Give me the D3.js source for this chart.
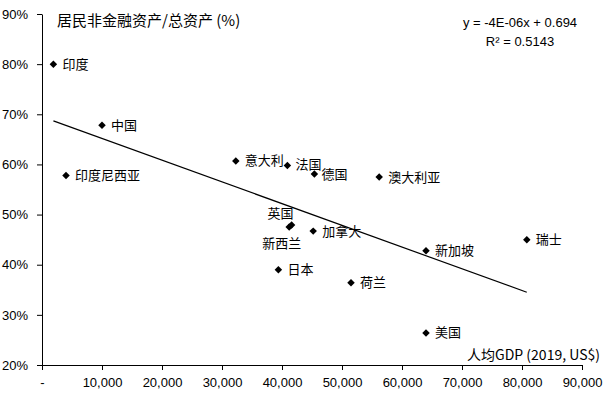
<!DOCTYPE html>
<html>
<head>
<meta charset="utf-8">
<script src="https://cdn.jsdelivr.net/npm/d3@7"></script>
<style>
  body { margin: 0; background: #fff; }
  svg { display: block; }
  .tick text { font-family: "Liberation Sans", Arial, sans-serif; font-size: 13px; fill: #000; }
  .cn { font-family: "Noto Sans CJK SC", sans-serif; font-size: 13px; fill: #000; }
  .eq { font-family: "Liberation Sans", Arial, sans-serif; font-size: 13px; fill: #000; }
</style>
</head>
<body>
<svg id="chart" width="616" height="394"></svg>
<script>
  // data
  var countries = ['印度', '中国', '印度尼西亚', '意大利', '法国', '德国', '澳大利亚', '英国', '新西兰', '加拿大', '新加坡', '瑞士', '日本', '荷兰', '美国'];
  var gdpPerCapita = [1900, 10000, 4000, 32300, 40900, 45400, 56200, 41600, 41200, 45200, 64000, 80800, 39400, 51500, 64000];
  var nonFinShare = [0.80, 0.678, 0.578, 0.607, 0.598, 0.581, 0.575, 0.479, 0.475, 0.467, 0.428, 0.45, 0.39, 0.364, 0.264];
  var xTicks = [0, 10000, 20000, 30000, 40000, 50000, 60000, 70000, 80000, 90000];
  var yTicks = [0.2, 0.3, 0.4, 0.5, 0.6, 0.7, 0.8, 0.9];
  var trendSlope = -4.33e-6, trendIntercept = 0.695;
  var eqLabels = ['y = -4E-06x + 0.694', 'R² = 0.5143'];

  // label placement (dx, dy) for the crowded ones
  var labelPlace = {
    '英国': [-24, -12],
    '新西兰': [-27, 16],
    '法国': [8, -1],
    '德国': [7, 0]
  };

  var svg = d3.select('#chart');
  var x = d3.scaleLinear().domain([0, 90000]).range([42, 582]);
  var y = d3.scaleLinear().domain([0.2, 0.9]).range([365, 14]);

  var xAxis = d3.axisBottom(x).tickValues(xTicks).tickSize(5).tickSizeOuter(0)
    .tickFormat(function(d) { return d === 0 ? '-' : d3.format(',')(d); });
  var gx = svg.append('g').attr('transform', 'translate(0,' + y(0.2) + ')').call(xAxis);
  gx.selectAll('.tick text').attr('dy', '1.1em');

  var yAxis = d3.axisLeft(y).tickValues(yTicks).tickSize(5).tickSizeOuter(0)
    .tickFormat(d3.format('.0%'));
  var gy = svg.append('g').attr('transform', 'translate(' + x(0) + ',0)').call(yAxis);
  gy.selectAll('.tick text').attr('x', -14);

  svg.selectAll('.domain, .tick line').attr('stroke', '#000');

  // trend line over the data range
  var xMin = d3.min(gdpPerCapita), xMax = d3.max(gdpPerCapita);
  svg.append('line')
    .attr('x1', x(xMin)).attr('y1', y(trendIntercept + trendSlope * xMin))
    .attr('x2', x(xMax)).attr('y2', y(trendIntercept + trendSlope * xMax))
    .attr('stroke', '#000').attr('stroke-width', 1.2);

  var pts = countries.map(function(c, i) {
    return { name: c, gdp: gdpPerCapita[i], share: nonFinShare[i] };
  });

  // square turned 45 degrees, like excel's diamond marker
  var diamond = d3.symbol().type(d3.symbolSquare).size(28);
  svg.selectAll('path.pt').data(pts).enter().append('path')
    .attr('class', 'pt')
    .attr('d', diamond)
    .attr('transform', function(d) { return 'translate(' + x(d.gdp) + ',' + y(d.share) + ') rotate(45)'; })
    .attr('fill', '#000');

  svg.selectAll('text.lbl').data(pts).enter().append('text')
    .attr('class', 'lbl cn')
    .attr('x', function(d) { return x(d.gdp) + (labelPlace[d.name] ? labelPlace[d.name][0] : 9); })
    .attr('y', function(d) { return y(d.share) + (labelPlace[d.name] ? labelPlace[d.name][1] : 0); })
    .attr('dy', '0.35em')
    .text(function(d) { return d.name; });

  // axis titles
  svg.append('text').attr('class', 'cn').attr('x', 57).attr('y', 26)
    .style('font-size', '15px')
    .text('居民非金融资产/总资产 (%)');
  svg.append('text').attr('class', 'cn').attr('x', 600).attr('y', 360)
    .attr('text-anchor', 'end').style('font-size', '14px')
    .text('人均GDP (2019, US$)');

  svg.selectAll('text.eq').data(eqLabels).enter().append('text')
    .attr('class', 'eq')
    .attr('x', 520).attr('y', function(d, i) { return 27 + i * 19; })
    .attr('text-anchor', 'middle')
    .text(function(d) { return d; });
</script>
</body>
</html>
